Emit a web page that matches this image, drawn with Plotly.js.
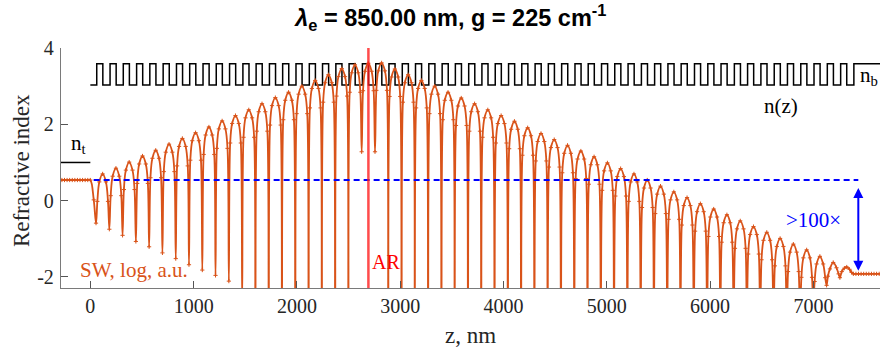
<!DOCTYPE html>
<html>
<head>
<meta charset="utf-8">
<script src="https://cdn.plot.ly/plotly-3.0.1.min.js"></script>
<style>html,body{margin:0;padding:0;background:#fff;}#plot{width:880px;height:352px;}</style>
</head>
<body>
<div id="plot"></div>
<script>
// ---- data ----
// standing wave (log scale, arbitrary units): z positions (nm) and values
const swZ = [
  -300,-275,-250,-225,-200,-175,-150,-125,-100,-75,-50,-25,0,33,
  55,68,87,119,151,171, 184,197,216,248,280,300, 312,325,344,376,408,428,
  441,454,473,505,537,557, 569,582,601,633,665,685, 698,711,730,762,794,814,
  827,840,859,891,923,943, 955,968,987,1019,1051,1071, 1084,1097,1116,1148,1180,1200,
  1212,1225,1244,1276,1308,1328, 1341,1354,1373,1405,1437,1457, 1470,1483,1502,1534,1566,1586,
  1598,1611,1630,1662,1694,1714, 1727,1740,1759,1791,1823,1843, 1855,1868,1887,1919,1951,1971,
  1984,1997,2016,2048,2080,2100, 2113,2126,2145,2177,2209,2229, 2241,2254,2273,2305,2337,2357,
  2370,2383,2402,2434,2466,2486, 2498,2511,2530,2562,2594,2614, 2627,2640,2659,2691,2723,2743,
  2756,2769,2788,2820,2852,2872, 2884,2897,2916,2948,2980,3000, 3013,3026,3045,3077,3109,3129,
  3141,3154,3173,3205,3237,3257, 3270,3283,3302,3334,3366,3386, 3399,3412,3431,3463,3495,3515,
  3527,3540,3559,3591,3623,3643, 3656,3669,3688,3720,3752,3772, 3784,3797,3816,3848,3880,3900,
  3913,3926,3945,3977,4009,4029, 4042,4055,4074,4106,4138,4158, 4170,4183,4202,4234,4266,4286,
  4299,4312,4331,4363,4395,4415, 4427,4440,4459,4491,4523,4543, 4556,4569,4588,4620,4652,4672,
  4685,4698,4717,4749,4781,4801, 4813,4826,4845,4877,4909,4929, 4942,4955,4974,5006,5038,5058,
  5070,5083,5102,5134,5166,5186, 5199,5212,5231,5263,5295,5315, 5328,5341,5360,5392,5424,5444,
  5456,5469,5488,5520,5552,5572, 5585,5598,5617,5649,5681,5701, 5713,5726,5745,5777,5809,5829,
  5842,5855,5874,5906,5938,5958, 5971,5984,6003,6035,6067,6087, 6099,6112,6131,6163,6195,6215,
  6228,6241,6260,6292,6324,6344, 6356,6369,6388,6420,6452,6472, 6485,6498,6517,6549,6581,6601,
  6614,6627,6646,6678,6710,6730, 6742,6755,6774,6806,6838,6858, 6871,6884,6903,6935,6967,6987,
  6999,7012,7031,7063,7095,7115, 7128,7141,7160,7192,7224,7244,
  7257,7275,7300,7323,7350,7370,
  7387,7412,7437,7462,7487,7512,7537,7562,7587,7612,7637,7662
];
const swVal = [
  0.54,0.54,0.54,0.54,0.54,0.54,0.54,0.54,0.54,0.54,0.54,0.54,0.54,0.02,
  -0.59,-0.02,0.49,0.70,0.49,-0.02, -0.75,0.13,0.64,0.85,0.64,0.13, -0.91,0.29,0.80,1.01,0.80,0.29,
  -1.07,0.45,0.96,1.17,0.96,0.45, -1.21,0.60,1.11,1.32,1.11,0.60, -1.37,0.76,1.27,1.48,1.27,0.76,
  -1.52,0.91,1.42,1.63,1.42,0.91, -1.68,1.06,1.57,1.78,1.57,1.06, -1.82,1.21,1.72,1.93,1.72,1.21,
  -1.96,1.37,1.88,2.09,1.88,1.37, -2.11,1.51,2.02,2.23,2.02,1.51, -2.6,1.66,2.17,2.38,2.17,1.66,
  -3.2,1.82,2.33,2.54,2.33,1.82, -3.2,1.98,2.49,2.70,2.49,1.98, -3.2,2.12,2.63,2.84,2.63,2.12,
  -3.2,2.28,2.79,3.00,2.79,2.28, -3.2,2.43,2.94,3.15,2.94,2.43, -3.2,2.58,3.09,3.30,3.09,2.58,
  -3.2,2.74,3.25,3.46,3.25,2.74, -3.2,2.84,3.35,3.56,3.35,2.84, 1.28,2.88,3.39,3.60,3.39,2.88,
  1.28,2.89,3.40,3.61,3.40,2.89, -3.2,2.73,3.24,3.45,3.24,2.73, -3.2,2.58,3.09,3.30,3.09,2.58,
  -3.2,2.43,2.94,3.15,2.94,2.43, -3.2,2.28,2.79,3.00,2.79,2.28, -3.2,2.12,2.63,2.84,2.63,2.12,
  -3.2,1.97,2.48,2.69,2.48,1.97, -3.2,1.82,2.33,2.54,2.33,1.82, -3.2,1.66,2.17,2.38,2.17,1.66,
  -3.2,1.51,2.02,2.23,2.02,1.51, -3.2,1.36,1.87,2.08,1.87,1.36, -3.2,1.19,1.70,1.91,1.70,1.19,
  -3.2,1.04,1.55,1.76,1.55,1.04, -3.2,0.88,1.39,1.60,1.39,0.88, -3.2,0.73,1.24,1.45,1.24,0.73,
  -3.2,0.58,1.09,1.30,1.09,0.58, -3.2,0.43,0.94,1.15,0.94,0.43, -3.2,0.27,0.78,0.99,0.78,0.27,
  -3.2,0.12,0.63,0.84,0.63,0.12, -3.2,-0.02,0.49,0.70,0.49,-0.02, -3.2,-0.18,0.33,0.54,0.33,-0.18,
  -3.2,-0.34,0.17,0.38,0.17,-0.34, -3.2,-0.49,0.02,0.23,0.02,-0.49, -3.2,-0.64,-0.13,0.08,-0.13,-0.64,
  -3.2,-0.80,-0.29,-0.08,-0.29,-0.80, -3.2,-0.94,-0.43,-0.22,-0.43,-0.94, -3.2,-1.09,-0.58,-0.37,-0.58,-1.09,
  -3.2,-1.25,-0.74,-0.53,-0.74,-1.25, -3.2,-1.40,-0.89,-0.68,-0.89,-1.40, -3.2,-1.55,-1.04,-0.83,-1.04,-1.55,
  -3.2,-1.71,-1.20,-0.99,-1.20,-1.71, -3.2,-1.86,-1.35,-1.14,-1.35,-1.86, -3.2,-2.01,-1.50,-1.29,-1.50,-2.01,
  -2.8,-2.12,-1.66,-1.46,-1.66,-2.02, -2.22,-1.98,-1.79,-1.62,-1.76,-1.92,
  -2.02,-1.86,-1.77,-1.74,-1.80,-1.88,
  -1.92,-1.92,-1.92,-1.92,-1.92,-1.92,-1.92,-1.92,-1.92,-1.92,-1.92,-1.92
];
// refractive index profile n(z): layer interfaces (nm)
const nzEdges = [
  0,62,121,191,250,319,378,448,507,576,635,705,764,834,893,962,1021,1091,1150,1219,1278,
  1348,1407,1477,1536,1605,1664,1734,1793,1862,1921,1991,2050,2120,2179,2248,2307,2377,2436,
  2505,2564,2634,2693,2763,2822,2891,2950,3020,3079,3148,3207,3277,3336,3406,3465,3534,3593,
  3663,3722,3791,3850,3920,3979,4049,4108,4177,4236,4306,4365,4434,4493,4563,4622,4692,4751,
  4820,4879,4949,5008,5077,5136,5206,5265,5335,5394,5463,5522,5592,5651,5720,5779,5849,5908,
  5978,6037,6106,6165,6235,6294,6363,6422,6492,6551,6621,6680,6749,6808,6878,6937,7006,7065,
  7135,7194,7264,7323,7392
];
const nLow = 3.03, nHigh = 3.59;   // DBR layer indices
const nTop = 1.0;                   // n_t (air)
const nTopZ = [-284, 0];
const arZ = 2692;                   // active region position
const dashLevel = 0.54, dashZ = [32, 7435];
const arrowZ = 7435, arrowY = [0.37, -1.84];
const xTicks = [0,1000,2000,3000,4000,5000,6000,7000];
const yTicks = [-2,0,2,4];
const xRange = [-284, 7645], yRange = [-2.29, 4];

// step profile: starts with a low layer, alternates, ends in substrate (n_b = high)
const nzX = [], nzY = [];
nzEdges.forEach((z, i) => { nzX.push(z); nzY.push(i % 2 === 0 ? nLow : nHigh); });
nzX.push(xRange[1] + 50); nzY.push(nHigh);

const serif = 'Liberation Serif, Times New Roman, serif';
const orange = '#D95319';

const traces = [
  { x: nTopZ, y: [nTop, nTop], mode: 'lines', line: {color: '#000', width: 1.5}, hoverinfo: 'skip' },
  { x: nzX, y: nzY, mode: 'lines', line: {color: '#000', width: 1.5, shape: 'hv'}, hoverinfo: 'skip' },
  { x: swZ, y: swVal, mode: 'lines+markers',
    line: {color: orange, width: 1.8, shape: 'spline', smoothing: 1},
    marker: {symbol: 'cross-thin', size: 3, line: {color: orange, width: 1}, color: orange},
    hoverinfo: 'skip' },
  { x: dashZ, y: [dashLevel, dashLevel], mode: 'lines', line: {color: '#0000FF', width: 2, dash: '6px,4px'}, hoverinfo: 'skip' },
  { x: [arZ, arZ], y: yRange, mode: 'lines', line: {color: 'rgba(255,30,30,0.8)', width: 2.5}, hoverinfo: 'skip' }
];

const axisCommon = {
  showgrid: false, zeroline: false, showline: true, linecolor: '#7a7a7a', linewidth: 1.2,
  ticks: 'inside', ticklen: 7, tickwidth: 1, tickcolor: '#555',
  tickfont: {family: serif, size: 20, color: '#262626'}, mirror: false, automargin: false
};

const layout = {
  width: 880, height: 352,
  margin: {l: 61, r: 0, t: 48, b: 64},
  paper_bgcolor: '#fff', plot_bgcolor: '#fff',
  showlegend: false,
  title: {
    text: '<b><i>λ</i><sub>e</sub> = 850.00 nm, g = 225 cm<sup>-1</sup></b>',
    font: {family: 'Liberation Sans, Arial, sans-serif', size: 23.5, color: '#000'},
    x: 0.476, xref: 'paper', xanchor: 'center', y: 0.949, yref: 'container', yanchor: 'middle'
  },
  xaxis: Object.assign({}, axisCommon, {
    range: xRange, tickvals: xTicks, ticktext: xTicks.map(String), ticklabelstandoff: 0,
    title: {text: 'z, nm', font: {family: serif, size: 23, color: '#262626'}, standoff: 10}
  }),
  yaxis: Object.assign({}, axisCommon, {
    range: yRange, tickvals: yTicks, ticktext: yTicks.map(String), ticklabelstandoff: 2
  }),
  annotations: [
    {x: -0.048, y: 0.49, xref: 'paper', yref: 'paper', text: 'Refractive index', textangle: -90,
     showarrow: false, xanchor: 'center', yanchor: 'middle',
     font: {family: serif, size: 23, color: '#262626'}},
    {x: 426, y: -1.83, xref: 'x', yref: 'y', text: 'SW, log, a.u.', showarrow: false,
     font: {family: serif, size: 21, color: orange}},
    {x: 2865, y: -1.61, xref: 'x', yref: 'y', text: 'AR', showarrow: false,
     font: {family: serif, size: 20, color: '#FF0000'}},
    {x: 6682, y: 2.47, xref: 'x', yref: 'y', text: 'n(z)', showarrow: false,
     font: {family: serif, size: 21, color: '#000'}},
    {x: -116, y: 1.48, xref: 'x', yref: 'y', text: 'n<sub>t</sub>', showarrow: false,
     font: {family: serif, size: 21, color: '#000'}},
    {x: 7432, y: 3.27, xref: 'x', yref: 'y', text: 'n<sub>b</sub>', showarrow: false, xanchor: 'left',
     font: {family: serif, size: 21, color: '#000'}},
    {x: 7002, y: -0.5, xref: 'x', yref: 'y', text: '>100×', showarrow: false,
     font: {family: serif, size: 21, color: '#0000FF'}},
    {x: arrowZ, y: arrowY[1], ax: arrowZ, ay: arrowY[0], xref: 'x', yref: 'y', axref: 'x', ayref: 'y',
     text: '', showarrow: true, arrowhead: 2, arrowside: 'end+start', arrowsize: 1, arrowwidth: 2,
     arrowcolor: '#0000FF', standoff: 0, startstandoff: 0}
  ]
};

Plotly.newPlot('plot', traces, layout, {staticPlot: true, displayModeBar: false});
</script>
</body>
</html>
